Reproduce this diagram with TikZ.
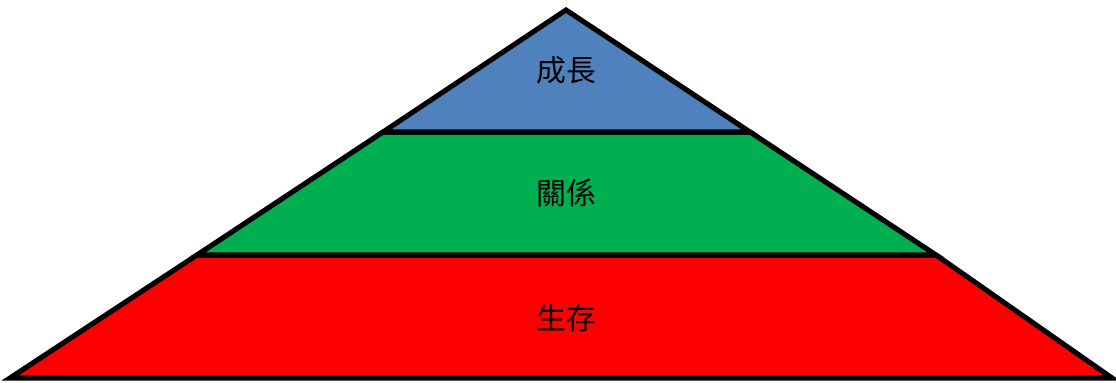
\documentclass[tikz,border=0pt]{standalone}
\usepackage{fontspec}
\newfontfamily\cjk{Noto Sans CJK TC}
\usetikzlibrary{positioning}
\definecolor{topblue}{RGB}{79,129,189}
\definecolor{midgreen}{RGB}{0,176,80}
\definecolor{basered}{RGB}{255,0,0}
\tikzset{
  layer/.style={draw=black, line width=1.45pt, line join=miter},
  lbl/.style={font=\cjk\fontsize{8.5}{10}\selectfont, text=black}
}

\begin{document}
\begin{tikzpicture}[x=0.01cm, y=-0.01cm]
\useasboundingbox (0,0) rectangle (1116,382);
\coordinate (apex) at (566,10);
\coordinate (l1) at (383,132);
\coordinate (r1) at (750,132);
\coordinate (l2) at (197,255);
\coordinate (r2) at (936,255);
\coordinate (l3) at (10,378);
\coordinate (r3) at (1112,378);
\draw[layer, fill=basered] (l2) -- (r2) -- (r3) -- (l3) -- cycle;
\draw[layer, fill=midgreen] (l1) -- (r1) -- (r2) -- (l2) -- cycle;
\draw[layer, fill=topblue] (apex) -- (r1) -- (l1) -- cycle;
\node[lbl] (grow) at (566,70) {成長};
\node[lbl] (relate) at (566,193) {關係};
\node[lbl] (exist) at (566,318) {生存};
\end{tikzpicture}
\end{document}
